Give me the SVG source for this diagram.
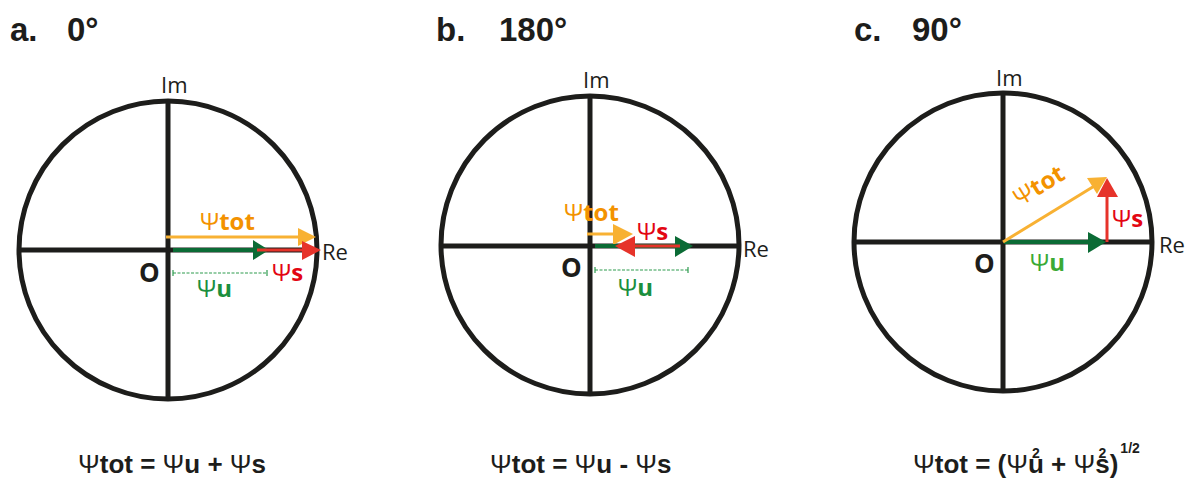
<svg xmlns="http://www.w3.org/2000/svg" width="1202" height="480" viewBox="0 0 1202 480">
<style>
.ring{fill:none;stroke:#1d1d1b;stroke-width:5}
.axis{stroke:#1d1d1b;stroke-width:5;fill:none}
.title{font-family:"Liberation Sans",Arial,sans-serif;font-weight:bold;font-size:33px;fill:#1d1d1b}
.ax{font-family:"Open Sans","Liberation Sans",sans-serif;font-size:22px;fill:#1d1d1b}
.o{font-family:"Open Sans","Liberation Sans",sans-serif;font-size:26px;font-weight:bold;fill:#1d1d1b}
.lbl{font-family:"Open Sans","Liberation Sans",sans-serif;font-size:24px}
.b{font-weight:bold}
.orange{fill:#f39200}
.red{fill:#e30613}
.green{fill:#1b8f3e}
.lgreen{fill:#3baa35}
.lo{stroke:#f8b133;stroke-width:3;fill:none}
.lr{stroke:#e6332a;stroke-width:3;fill:none}
.lg{stroke:#0b6b35;stroke-width:4;fill:none}
.ho{fill:#f8b133}
.hr{fill:#e6332a}
.hg{fill:#0b6b35}
.dim{stroke:#2e9b4f;stroke-width:1.2;fill:none}
.dash{stroke-dasharray:3 1.5}
.eq{font-family:"Liberation Sans",Arial,sans-serif;font-size:26px;font-weight:bold;fill:#1d1d1b}
.n{font-weight:normal}
.sup{font-size:14px}
</style>

<g id="panel-a">
  <text class="title" x="10" y="41">a.</text>
  <text class="title" x="67" y="41">0°</text>
  <circle class="ring" cx="168" cy="250" r="149"/>
  <line class="axis" x1="168" y1="101" x2="168" y2="399"/>
  <line class="axis" x1="19" y1="250" x2="317" y2="250"/>
  <text class="ax" x="161" y="93">Im</text>
  <text class="ax" x="322" y="260">Re</text>
  <text class="o" x="139" y="282">O</text>
</g>
<g id="panel-b">
  <text class="title" x="436" y="41">b.</text>
  <text class="title" x="499" y="41">180°</text>
  <circle class="ring" cx="590" cy="245" r="149"/>
  <line class="axis" x1="590" y1="96" x2="590" y2="394"/>
  <line class="axis" x1="441" y1="246" x2="739" y2="246"/>
  <text class="ax" x="583" y="88">Im</text>
  <text class="ax" x="743" y="257">Re</text>
  <text class="o" x="561" y="277">O</text>
</g>
<g id="panel-c">
  <text class="title" x="854" y="41">c.</text>
  <text class="title" x="912" y="41">90°</text>
  <circle class="ring" cx="1003" cy="242" r="149"/>
  <line class="axis" x1="1003" y1="93" x2="1003" y2="391"/>
  <line class="axis" x1="854" y1="242" x2="1152" y2="242"/>
  <text class="ax" x="996" y="86">Im</text>
  <text class="ax" x="1159" y="253">Re</text>
  <text class="o" x="974" y="273">O</text>
</g>

<g id="connectors">
  <!-- a -->
  <line class="lo" x1="166" y1="237" x2="300" y2="237"/>
  <polygon class="ho" points="298,228 316,237 298,246"/>
  <line class="lg" x1="173" y1="250" x2="255" y2="250"/>
  <polygon class="hg" points="253,240 269,250 253,260"/>
  <line class="lr" x1="257" y1="250" x2="304" y2="250"/>
  <polygon class="hr" points="302,241 321,250 302,260"/>
  <line class="dim dash" x1="173" y1="273" x2="267" y2="273"/>
  <line class="dim" x1="173" y1="270" x2="173" y2="276"/>
  <line class="dim" x1="267" y1="270" x2="267" y2="276"/>
  <!-- b -->
  <line class="lo" x1="587" y1="234" x2="615" y2="234"/>
  <polygon class="ho" points="613,224 633,234 613,245"/>
  <line class="lg" x1="595" y1="246" x2="677" y2="246"/>
  <polygon class="hg" points="675,236 693,246 675,257"/>
  <line class="lr" x1="633" y1="246" x2="680" y2="246"/>
  <polygon class="hr" points="635,236 615,246 635,257"/>
  <line class="dim dash" x1="595" y1="270" x2="688" y2="270"/>
  <line class="dim" x1="595" y1="267" x2="595" y2="273"/>
  <line class="dim" x1="688" y1="267" x2="688" y2="273"/>
  <!-- c -->
  <line class="lg" x1="1004" y1="242" x2="1090" y2="242"/>
  <polygon class="hg" points="1088,232 1106,242 1088,253"/>
  <line class="lo" x1="1003" y1="242" x2="1096" y2="185"/>
  <polygon class="ho" points="1087,178 1107,177 1097,194"/>
  <line class="lr" x1="1107" y1="242" x2="1107" y2="196"/>
  <polygon class="hr" points="1097,197 1107,178 1118,197"/>
</g>

<g id="labels">
  <text class="lbl orange" x="200" y="230">Ψ<tspan class="b">tot</tspan></text>
  <text class="lbl red" x="272" y="281">Ψ<tspan class="b">s</tspan></text>
  <text class="lbl green" x="197" y="297">Ψ<tspan class="b">u</tspan></text>

  <text class="lbl orange" x="564" y="221">Ψ<tspan class="b">tot</tspan></text>
  <text class="lbl red" x="637" y="240">Ψ<tspan class="b">s</tspan></text>
  <text class="lbl green" x="618" y="296">Ψ<tspan class="b">u</tspan></text>

  <text class="lbl orange" x="1020" y="207" transform="rotate(-31.6 1020 207)">Ψ<tspan class="b">tot</tspan></text>
  <text class="lbl red" x="1112" y="227">Ψ<tspan class="b">s</tspan></text>
  <text class="lbl lgreen" x="1030" y="271">Ψ<tspan class="b">u</tspan></text>
</g>

<g id="equations">
  <text class="eq" x="78" y="473"><tspan class="n">Ψ</tspan>tot = <tspan class="n">Ψ</tspan>u + <tspan class="n">Ψ</tspan>s</text>
  <text class="eq" x="490" y="473"><tspan class="n">Ψ</tspan>tot = <tspan class="n">Ψ</tspan>u - <tspan class="n">Ψ</tspan>s</text>
  <text class="eq" x="913" y="473"><tspan class="n">Ψ</tspan>tot = (<tspan class="n">Ψ</tspan>u<tspan class="sup" dx="-11.8" dy="-15">2</tspan><tspan dx="4" dy="15"> + </tspan><tspan class="n">Ψ</tspan>s<tspan class="sup" dx="-11.1" dy="-15">2</tspan><tspan dx="3.3" dy="15">)</tspan><tspan class="sup" dx="2" dy="-20">1/2</tspan></text>
</g>
</svg>
